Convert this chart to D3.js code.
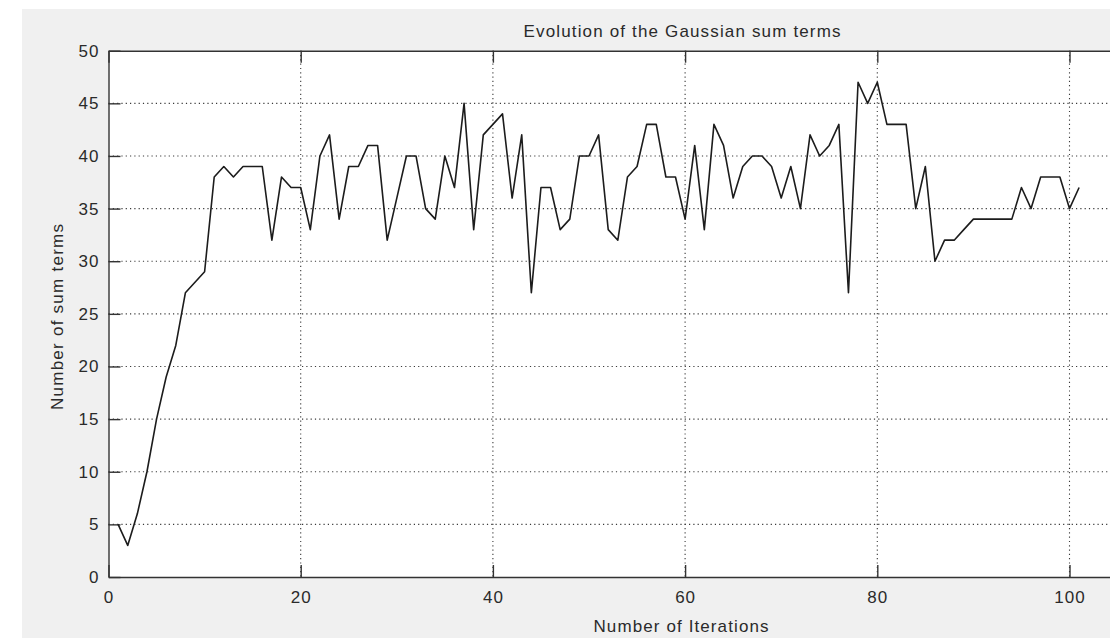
<!DOCTYPE html>
<html>
<head>
<meta charset="utf-8">
<script src="https://cdn.jsdelivr.net/npm/d3@7"></script>
<style>
  body { margin: 0; background: #ffffff; }
  text { font-family: "Liberation Sans", Arial, sans-serif; fill: #2a2a2a; }
  .tick text { font-size: 17px; letter-spacing: 1px; }
</style>
</head>
<body>
<div class="chart"></div>
<script>
var svgWidth = 1110;
var svgHeight = 638;

// values, one per iteration (1..101)
var sumTerms = [
  5, 3, 6, 10, 15, 19, 22, 27, 28, 29,
  38, 39, 38, 39, 39, 39, 32, 38, 37, 37,
  33, 40, 42, 34, 39, 39, 41, 41, 32, 36,
  40, 40, 35, 34, 40, 37, 45, 33, 42, 43,
  44, 36, 42, 27, 37, 37, 33, 34, 40, 40,
  42, 33, 32, 38, 39, 43, 43, 38, 38, 34,
  41, 33, 43, 41, 36, 39, 40, 40, 39, 36,
  39, 35, 42, 40, 41, 43, 27, 47, 45, 47,
  43, 43, 43, 35, 39, 30, 32, 32, 33, 34,
  34, 34, 34, 34, 37, 35, 38, 38, 38, 35,
  37
];
// the axis runs on to 120 but the picture is cut just after 100
var xTicks = [0, 20, 40, 60, 80, 100];
var yTicks = [0, 5, 10, 15, 20, 25, 30, 35, 40, 45, 50];

var plot = { left: 108.5, top: 50.7, bottom: 577 };
var pxPerIter = 9.61;

var svg = d3.select(".chart")
  .append("svg")
  .attr("width", svgWidth)
  .attr("height", svgHeight);

// grey figure background
svg.append("rect")
  .attr("x", 22).attr("y", 9)
  .attr("width", svgWidth - 22).attr("height", svgHeight - 9)
  .attr("fill", "#f0f0f0");

var xLinearScale = d3.scaleLinear()
  .domain([0, 120])
  .range([plot.left, plot.left + 120 * pxPerIter]);

var yLinearScale = d3.scaleLinear()
  .domain([0, 50])
  .range([plot.bottom, plot.top]);

// white axes area
svg.append("rect")
  .attr("x", plot.left).attr("y", plot.top)
  .attr("width", svgWidth - plot.left)
  .attr("height", plot.bottom - plot.top)
  .attr("fill", "#ffffff");

// dotted grid
var grid = svg.append("g")
  .attr("stroke", "#3a3a3a")
  .attr("stroke-width", 1.1)
  .attr("stroke-dasharray", "1.2,3.1");

grid.selectAll(".hgrid")
  .data(yTicks.filter(d => d > 0 && d < 50))
  .enter().append("line")
  .attr("x1", plot.left).attr("x2", svgWidth)
  .attr("y1", d => yLinearScale(d)).attr("y2", d => yLinearScale(d));

grid.selectAll(".vgrid")
  .data(xTicks.filter(d => d > 0))
  .enter().append("line")
  .attr("x1", d => xLinearScale(d)).attr("x2", d => xLinearScale(d))
  .attr("y1", plot.top).attr("y2", plot.bottom);

// axes, ticks point inward like matlab
var bottomAxis = d3.axisBottom(xLinearScale)
  .tickValues(xTicks).tickSizeInner(-12).tickSizeOuter(0).tickPadding(14);
var topAxis = d3.axisTop(xLinearScale)
  .tickValues(xTicks).tickSizeInner(-12).tickSizeOuter(0).tickFormat("");
var leftAxis = d3.axisLeft(yLinearScale)
  .tickValues(yTicks).tickSizeInner(-12).tickSizeOuter(0).tickPadding(9);

function styleAxis(g) {
  g.selectAll("path, line").attr("stroke", "#333333").attr("stroke-width", 1.4);
  g.selectAll("text").attr("fill", "#2a2a2a");
}

svg.append("g")
  .attr("transform", `translate(0, ${plot.bottom})`)
  .call(bottomAxis).call(styleAxis);

svg.append("g")
  .attr("transform", `translate(0, ${plot.top})`)
  .call(topAxis).call(styleAxis);

svg.append("g")
  .attr("transform", `translate(${plot.left}, 0)`)
  .call(leftAxis).call(styleAxis);

// the data line
var line = d3.line()
  .x((d, i) => xLinearScale(i + 1))
  .y(d => yLinearScale(d));

svg.append("path")
  .datum(sumTerms)
  .attr("fill", "none")
  .attr("stroke", "#1c1c1c")
  .attr("stroke-width", 1.6)
  .attr("stroke-linejoin", "round")
  .attr("d", line);

// labels
svg.append("text")
  .attr("x", 682).attr("y", 37)
  .attr("text-anchor", "middle")
  .attr("font-size", 17)
  .attr("textLength", 317).attr("lengthAdjust", "spacing")
  .text("Evolution of the Gaussian sum terms");

svg.append("text")
  .attr("x", 681).attr("y", 632)
  .attr("text-anchor", "middle")
  .attr("font-size", 17)
  .attr("textLength", 175).attr("lengthAdjust", "spacing")
  .text("Number of Iterations");

svg.append("text")
  .attr("transform", "translate(63, 317) rotate(-90)")
  .attr("text-anchor", "middle")
  .attr("font-size", 17)
  .attr("textLength", 186).attr("lengthAdjust", "spacing")
  .text("Number of sum terms");
</script>
</body>
</html>
